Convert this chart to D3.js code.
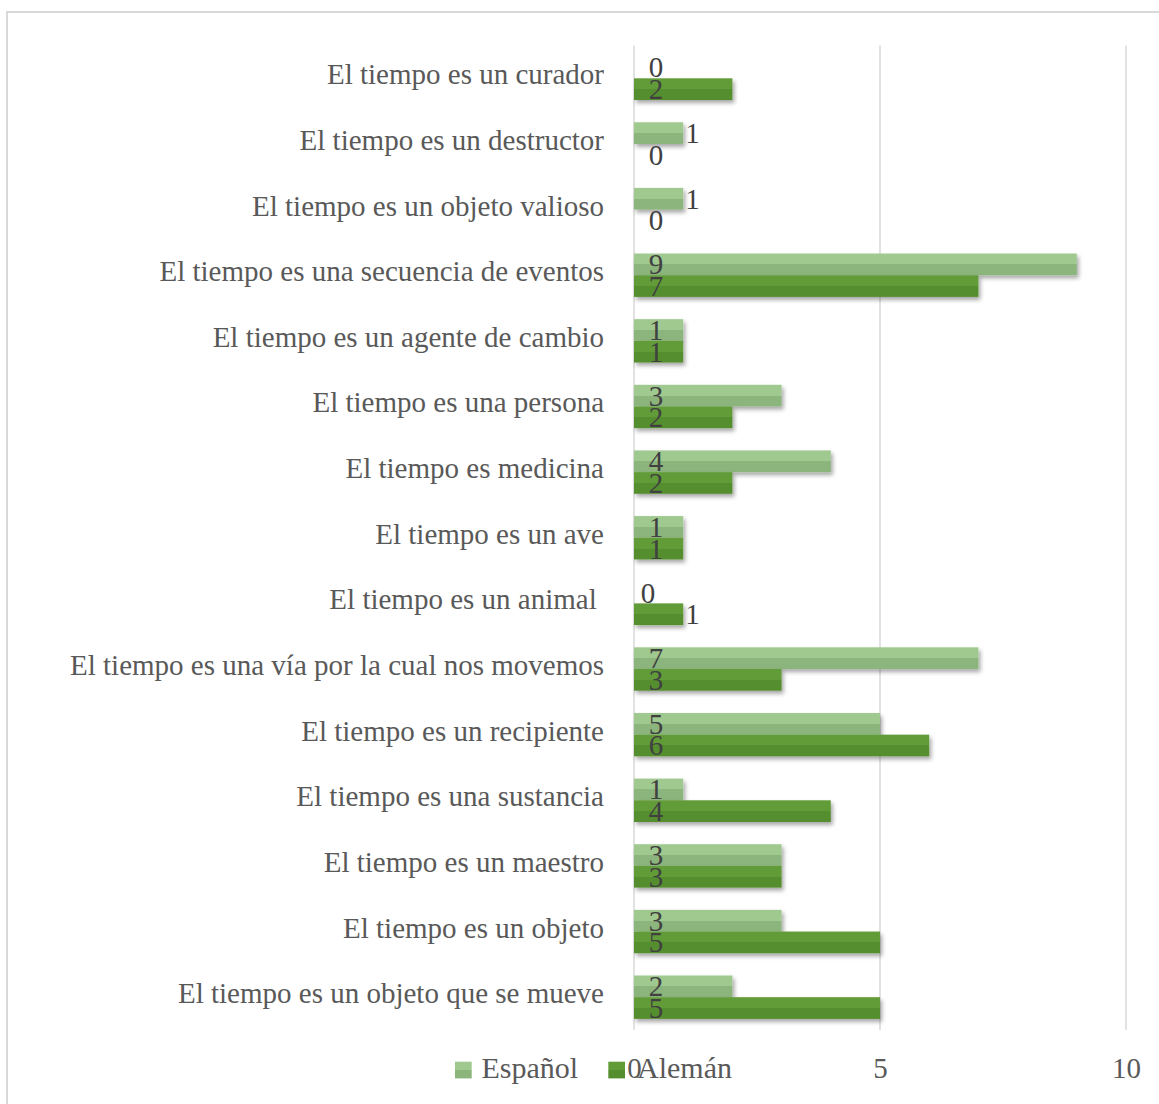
<!DOCTYPE html>
<html>
<head>
<meta charset="utf-8">
<script src="https://cdn.jsdelivr.net/npm/d3@7"></script>
<style>
  html, body { margin: 0; padding: 0; background: #fff; }
  svg { display: block; }
</style>
</head>
<body>
<svg id="chart" width="1159" height="1104"></svg>
<script>
// Categories, top to bottom
const categories = [
  "El tiempo es un curador",
  "El tiempo es un destructor",
  "El tiempo es un objeto valioso",
  "El tiempo es una secuencia de eventos",
  "El tiempo es un agente de cambio",
  "El tiempo es una persona",
  "El tiempo es medicina",
  "El tiempo es un ave",
  "El tiempo es un animal ",
  "El tiempo es una vía por la cual nos movemos",
  "El tiempo es un recipiente",
  "El tiempo es una sustancia",
  "El tiempo es un maestro",
  "El tiempo es un objeto",
  "El tiempo es un objeto que se mueve"
];
const seriesNames = ["Español", "Alemán"];
const espanol = [0, 1, 1, 9, 1, 3, 4, 1, 0, 7, 5, 1, 3, 3, 2];
const aleman  = [2, 0, 0, 7, 1, 2, 2, 1, 1, 3, 6, 4, 3, 5, 5];
// where each data label sits: at the bar base, past the bar end, or hugging the axis
const espanolLabelAt = ["base","end","end","base","base","base","base","base","axis","base","base","base","base","base","base"];
const alemanLabelAt  = ["base","base","base","base","base","base","base","base","end","base","base","base","base","base","base"];
const tickValues = [0, 5, 10];

const FONT = "'Liberation Serif', 'Times New Roman', serif";

const series = [
  { name: seriesNames[0], values: espanol, labelAt: espanolLabelAt, fill: "url(#gEs)" },
  { name: seriesNames[1], values: aleman,  labelAt: alemanLabelAt,  fill: "url(#gAl)" }
];

const svg = d3.select("#chart");
const defs = svg.append("defs");

function stripeGradient(id, top, bottom) {
  const g = defs.append("linearGradient").attr("id", id)
    .attr("x1", 0).attr("y1", 0).attr("x2", 0).attr("y2", 1);
  g.append("stop").attr("offset", "0%").attr("stop-color", top);
  g.append("stop").attr("offset", "50%").attr("stop-color", top);
  g.append("stop").attr("offset", "50%").attr("stop-color", bottom);
  g.append("stop").attr("offset", "100%").attr("stop-color", bottom);
}
stripeGradient("gEs", "#a0c990", "#8bb57b");
stripeGradient("gAl", "#629c37", "#558e2e");

const shadow = defs.append("filter").attr("id", "shadow")
  .attr("x", "-5%").attr("y", "-30%").attr("width", "120%").attr("height", "170%");
shadow.append("feDropShadow")
  .attr("dx", 2).attr("dy", 3).attr("stdDeviation", 2)
  .attr("flood-color", "#000").attr("flood-opacity", 0.35);

// chart frame
svg.append("rect")
  .attr("x", 7).attr("y", 12).attr("width", 1170).attr("height", 1110)
  .attr("fill", "none").attr("stroke", "#d9d9d9").attr("stroke-width", 2);

const plot = { left: 634, right: 1126, top: 45.5, bottom: 1030 };

const x = d3.scaleLinear().domain([0, 10]).range([plot.left, plot.right]);
const y = d3.scaleBand().domain(categories)
  .range([plot.top, plot.bottom]).paddingInner(0.339).paddingOuter(0.1695);
const ySub = d3.scaleBand().domain(seriesNames).range([0, y.bandwidth()]).padding(0);

// vertical gridlines
svg.append("g").selectAll("line").data(tickValues).join("line")
  .attr("x1", d => x(d)).attr("x2", d => x(d))
  .attr("y1", plot.top).attr("y2", plot.bottom)
  .attr("stroke", "#d9d9d9").attr("stroke-width", 1.5);

// axis tick labels along the bottom
const axis = d3.axisBottom(x).tickValues(tickValues).tickSize(0).tickPadding(0)
  .tickFormat(d3.format("d"));
const axisG = svg.append("g").attr("transform", `translate(0,${plot.bottom})`).call(axis)
  .attr("font-family", null).attr("font-size", null);
axisG.select(".domain").remove();
axisG.selectAll("text")
  .attr("y", 48).attr("dy", 0)
  .style("font-family", FONT)
  .style("font-size", "29px").attr("fill", "#595959");

// category labels
svg.append("g").selectAll("text").data(categories).join("text")
  .attr("x", 604)
  .attr("y", d => y(d) + y.bandwidth() / 2 + 6)
  .attr("text-anchor", "end")
  .style("white-space", "pre")
  .style("font-family", FONT)
  .style("font-size", "29px").attr("fill", "#595959")
  .text(d => d);

// bars
const groups = svg.append("g").selectAll("g").data(series).join("g");
groups.selectAll("rect")
  .data(s => s.values.map((v, i) => ({ s, v, c: categories[i] })))
  .join("rect")
  .filter(d => d.v > 0)
  .attr("x", x(0))
  .attr("y", d => y(d.c) + ySub(d.s.name))
  .attr("width", d => x(d.v) - x(0))
  .attr("height", ySub.bandwidth())
  .attr("fill", d => d.s.fill)
  .attr("filter", "url(#shadow)");

// value labels
const labels = svg.append("g").selectAll("g").data(series).join("g");
labels.selectAll("text")
  .data(s => s.values.map((v, i) => ({ s, v, c: categories[i], at: s.labelAt[i] })))
  .join("text")
  .attr("x", d => d.at === "end" ? x(d.v) + 2 : d.at === "axis" ? x(0) + 14 : x(0) + 22)
  .attr("y", d => y(d.c) + ySub(d.s.name) + ySub.bandwidth() / 2 + 10)
  .attr("text-anchor", d => d.at === "end" ? "start" : "middle")
  .style("font-family", FONT)
  .style("font-size", "29px").attr("fill", "#404040")
  .text(d => d.v);

// legend
const legendItems = [
  { name: seriesNames[0], fill: "url(#gEs)", x: 455, textX: 26.5 },
  { name: seriesNames[1], fill: "url(#gAl)", x: 608.3, textX: 28.7 }
];
const lg = svg.append("g").selectAll("g").data(legendItems).join("g")
  .attr("transform", d => `translate(${d.x},1061.7)`);
lg.append("rect").attr("width", 16.7).attr("height", 16.7).attr("fill", d => d.fill);
lg.append("text").attr("x", d => d.textX).attr("y", 16)
  .style("font-family", FONT)
  .style("font-size", "30px").attr("fill", "#595959")
  .text(d => d.name);
</script>
</body>
</html>
